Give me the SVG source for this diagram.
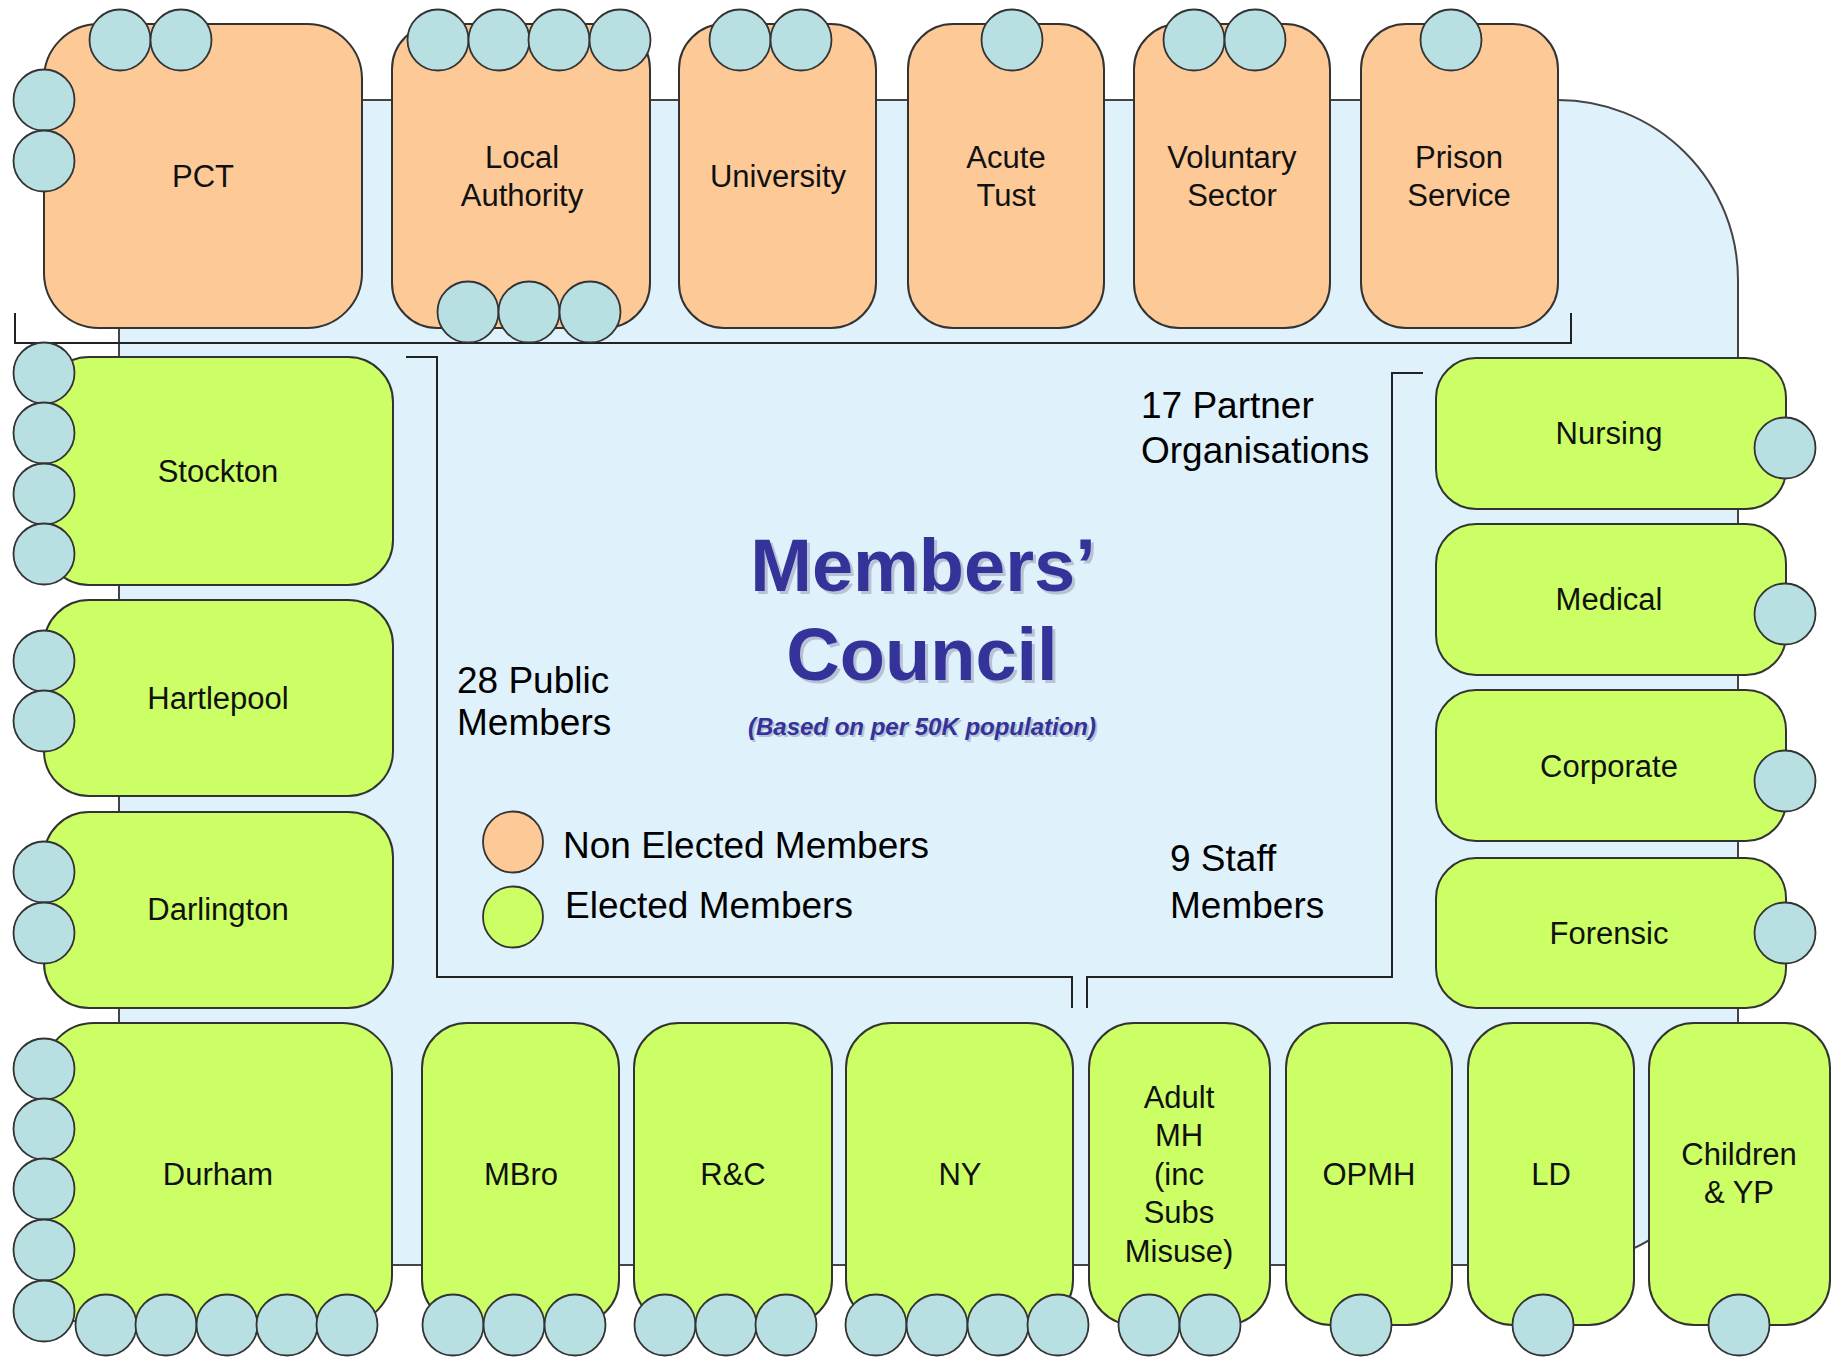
<svg xmlns="http://www.w3.org/2000/svg" width="1832" height="1358" viewBox="0 0 1832 1358">
<style>
  .org { fill:#FCC997; stroke:#333; stroke-width:2; }
  .grn { fill:#CCFF66; stroke:#333; stroke-width:2; }
  .c { fill:#B8DFE2; stroke:#333; stroke-width:1.8; }
  .lbl { font-family:"Liberation Sans", Arial, sans-serif; font-size:31px; fill:#111; text-anchor:middle; }
  .note { font-family:"Liberation Sans", Arial, sans-serif; font-size:37px; fill:#000; }
  .title { font-family:"Liberation Sans", Arial, sans-serif; font-weight:bold; font-size:74px; fill:#333399; text-anchor:middle; }
  .sub { font-family:"Liberation Sans", Arial, sans-serif; font-weight:bold; font-style:italic; font-size:24px; fill:#333399; text-anchor:middle; }
  .shadow { fill:#9a9ab8; opacity:0.55; }
  .br { fill:none; stroke:#222; stroke-width:2; }
</style>
<rect width="1832" height="1358" fill="#ffffff"/>
<path id="council-area" d="M119,100 H1558 A180,180 0 0 1 1738,280 V1085 A180,180 0 0 1 1558,1265 H119 Z" fill="#DFF1FB" stroke="#444" stroke-width="2"/>

<g id="connectors">
  <polyline class="br" points="15,313 15,343 1571,343 1571,313"/>
  <polyline class="br" points="406,357 437,357 437,977 1072,977 1072,1008"/>
  <polyline class="br" points="1423,373 1392,373 1392,977 1087,977 1087,1008"/>
</g>

<g id="pct">
  <rect class="org" x="44" y="24" width="318" height="304" rx="55"/>
  <circle class="c" cx="120" cy="40" r="30.5"/><circle class="c" cx="181" cy="40" r="30.5"/>
  <circle class="c" cx="44" cy="100" r="30.5"/><circle class="c" cx="44" cy="161" r="30.5"/>
  <text class="lbl" x="203" y="187">PCT</text>
</g>
<g id="local-authority">
  <rect class="org" x="392" y="24" width="258" height="304" rx="45"/>
  <circle class="c" cx="438" cy="40" r="30.5"/><circle class="c" cx="499" cy="40" r="30.5"/>
  <circle class="c" cx="559" cy="40" r="30.5"/><circle class="c" cx="620" cy="40" r="30.5"/>
  <circle class="c" cx="468" cy="312" r="30.5"/><circle class="c" cx="529" cy="312" r="30.5"/><circle class="c" cx="590" cy="312" r="30.5"/>
  <text class="lbl" x="522" y="168">Local</text>
  <text class="lbl" x="522" y="206">Authority</text>
</g>
<g id="university">
  <rect class="org" x="679" y="24" width="197" height="304" rx="45"/>
  <circle class="c" cx="740" cy="40" r="30.5"/><circle class="c" cx="801" cy="40" r="30.5"/>
  <text class="lbl" x="778" y="187">University</text>
</g>
<g id="acute-tust">
  <rect class="org" x="908" y="24" width="196" height="304" rx="45"/>
  <circle class="c" cx="1012" cy="40" r="30.5"/>
  <text class="lbl" x="1006" y="168">Acute</text>
  <text class="lbl" x="1006" y="206">Tust</text>
</g>
<g id="voluntary-sector">
  <rect class="org" x="1134" y="24" width="196" height="304" rx="45"/>
  <circle class="c" cx="1194" cy="40" r="30.5"/><circle class="c" cx="1255" cy="40" r="30.5"/>
  <text class="lbl" x="1232" y="168">Voluntary</text>
  <text class="lbl" x="1232" y="206">Sector</text>
</g>
<g id="prison-service">
  <rect class="org" x="1361" y="24" width="197" height="304" rx="45"/>
  <circle class="c" cx="1451" cy="40" r="30.5"/>
  <text class="lbl" x="1459" y="168">Prison</text>
  <text class="lbl" x="1459" y="206">Service</text>
</g>

<g id="stockton">
  <rect class="grn" x="44" y="357" width="349" height="228" rx="45"/>
  <circle class="c" cx="44" cy="373" r="30.5"/><circle class="c" cx="44" cy="433" r="30.5"/>
  <circle class="c" cx="44" cy="494" r="30.5"/><circle class="c" cx="44" cy="554" r="30.5"/>
  <text class="lbl" x="218" y="482">Stockton</text>
</g>
<g id="hartlepool">
  <rect class="grn" x="44" y="600" width="349" height="196" rx="45"/>
  <circle class="c" cx="44" cy="661" r="30.5"/><circle class="c" cx="44" cy="721" r="30.5"/>
  <text class="lbl" x="218" y="709">Hartlepool</text>
</g>
<g id="darlington">
  <rect class="grn" x="44" y="812" width="349" height="196" rx="45"/>
  <circle class="c" cx="44" cy="872" r="30.5"/><circle class="c" cx="44" cy="933" r="30.5"/>
  <text class="lbl" x="218" y="920">Darlington</text>
</g>
<g id="durham">
  <rect class="grn" x="44" y="1023" width="348" height="302" rx="50"/>
  <circle class="c" cx="44" cy="1069" r="30.5"/><circle class="c" cx="44" cy="1129" r="30.5"/>
  <circle class="c" cx="44" cy="1189" r="30.5"/><circle class="c" cx="44" cy="1250" r="30.5"/>
  <circle class="c" cx="44" cy="1311" r="30.5"/>
  <circle class="c" cx="106" cy="1325" r="30.5"/><circle class="c" cx="166" cy="1325" r="30.5"/>
  <circle class="c" cx="227" cy="1325" r="30.5"/><circle class="c" cx="287" cy="1325" r="30.5"/>
  <circle class="c" cx="347" cy="1325" r="30.5"/>
  <text class="lbl" x="218" y="1185">Durham</text>
</g>
<g id="mbro">
  <rect class="grn" x="422" y="1023" width="197" height="302" rx="45"/>
  <circle class="c" cx="453" cy="1325" r="30.5"/><circle class="c" cx="514" cy="1325" r="30.5"/><circle class="c" cx="575" cy="1325" r="30.5"/>
  <text class="lbl" x="521" y="1185">MBro</text>
</g>
<g id="r-and-c">
  <rect class="grn" x="634" y="1023" width="198" height="302" rx="45"/>
  <circle class="c" cx="665" cy="1325" r="30.5"/><circle class="c" cx="726" cy="1325" r="30.5"/><circle class="c" cx="786" cy="1325" r="30.5"/>
  <text class="lbl" x="733" y="1185">R&amp;C</text>
</g>
<g id="ny">
  <rect class="grn" x="846" y="1023" width="227" height="302" rx="45"/>
  <circle class="c" cx="876" cy="1325" r="30.5"/><circle class="c" cx="937" cy="1325" r="30.5"/>
  <circle class="c" cx="998" cy="1325" r="30.5"/><circle class="c" cx="1058" cy="1325" r="30.5"/>
  <text class="lbl" x="960" y="1185">NY</text>
</g>
<g id="adult-mh">
  <rect class="grn" x="1089" y="1023" width="181" height="302" rx="45"/>
  <circle class="c" cx="1149" cy="1325" r="30.5"/><circle class="c" cx="1210" cy="1325" r="30.5"/>
  <text class="lbl" x="1179" y="1108">Adult</text>
  <text class="lbl" x="1179" y="1146">MH</text>
  <text class="lbl" x="1179" y="1185">(inc</text>
  <text class="lbl" x="1179" y="1223">Subs</text>
  <text class="lbl" x="1179" y="1262">Misuse)</text>
</g>
<g id="opmh">
  <rect class="grn" x="1286" y="1023" width="166" height="302" rx="45"/>
  <circle class="c" cx="1361" cy="1325" r="30.5"/>
  <text class="lbl" x="1369" y="1185">OPMH</text>
</g>
<g id="ld">
  <rect class="grn" x="1468" y="1023" width="166" height="302" rx="45"/>
  <circle class="c" cx="1543" cy="1325" r="30.5"/>
  <text class="lbl" x="1551" y="1185">LD</text>
</g>
<g id="children-yp">
  <rect class="grn" x="1649" y="1023" width="181" height="302" rx="45"/>
  <circle class="c" cx="1739" cy="1325" r="30.5"/>
  <text class="lbl" x="1739" y="1165">Children</text>
  <text class="lbl" x="1739" y="1203">&amp; YP</text>
</g>

<g id="nursing">
  <rect class="grn" x="1436" y="358" width="350" height="151" rx="40"/>
  <circle class="c" cx="1785" cy="448" r="30.5"/>
  <text class="lbl" x="1609" y="444">Nursing</text>
</g>
<g id="medical">
  <rect class="grn" x="1436" y="524" width="350" height="151" rx="40"/>
  <circle class="c" cx="1785" cy="614" r="30.5"/>
  <text class="lbl" x="1609" y="610">Medical</text>
</g>
<g id="corporate">
  <rect class="grn" x="1436" y="690" width="350" height="151" rx="40"/>
  <circle class="c" cx="1785" cy="781" r="30.5"/>
  <text class="lbl" x="1609" y="777">Corporate</text>
</g>
<g id="forensic">
  <rect class="grn" x="1436" y="858" width="350" height="150" rx="40"/>
  <circle class="c" cx="1785" cy="933" r="30.5"/>
  <text class="lbl" x="1609" y="944">Forensic</text>
</g>

<g id="title">
  <text class="title shadow" x="926" y="594">Members’</text>
  <text class="title" x="923" y="591">Members’</text>
  <text class="title shadow" x="925" y="683">Council</text>
  <text class="title" x="922" y="680">Council</text>
  <text class="sub shadow" x="924" y="737">(Based on per 50K population)</text>
  <text class="sub" x="922" y="735">(Based on per 50K population)</text>
</g>

<g id="notes">
  <text class="note" x="1141" y="418">17 Partner</text>
  <text class="note" x="1141" y="463">Organisations</text>
  <text class="note" x="457" y="693">28 Public</text>
  <text class="note" x="457" y="735">Members</text>
  <text class="note" x="1170" y="871">9 Staff</text>
  <text class="note" x="1170" y="918">Members</text>
</g>

<g id="legend">
  <ellipse cx="513" cy="842" rx="30" ry="30.5" fill="#FCC997" stroke="#333" stroke-width="1.8"/>
  <text class="note" x="563" y="858">Non Elected Members</text>
  <ellipse cx="513" cy="917" rx="30" ry="30.5" fill="#CCFF66" stroke="#333" stroke-width="1.8"/>
  <text class="note" x="565" y="918">Elected Members</text>
</g>
</svg>
